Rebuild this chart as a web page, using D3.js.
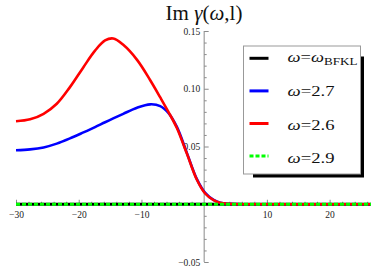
<!DOCTYPE html>
<html>
<head>
<meta charset="utf-8">
<script src="https://cdn.jsdelivr.net/npm/d3@7"></script>
<style>
  body { margin: 0; background: #fff; }
</style>
</head>
<body>
<div id="chart"></div>
<script>
var serif = "'Liberation Serif', 'Times New Roman', 'DejaVu Serif', serif";

// l values sampled along the curves
var ls = [-30, -27.75, -25.6, -23.5, -21.4, -19.25, -17.4, -15.8, -14.5, -12.9, -10.7, -8.6, -7, -5.7, -4.35, -2.76, -1.16, 0.16, 1.5, 2.55, 4, 7, 26.6];
// omega = 2.6 (red)
var im26 = [0.0718, 0.0735, 0.0783, 0.0870, 0.1014, 0.1187, 0.1330, 0.1418, 0.1435, 0.1380, 0.1250, 0.1074, 0.0925, 0.0800, 0.0660, 0.0439, 0.0212, 0.0093, 0.0035, 0.0012, 0.0003, 0, 0];
// omega = 2.7 (blue)
var im27 = [0.0468, 0.0475, 0.0492, 0.0525, 0.0570, 0.0622, 0.0668, 0.0710, 0.0743, 0.0783, 0.0836, 0.0865, 0.0850, 0.0790, 0.0670, 0.0445, 0.0217, 0.0098, 0.0037, 0.0012, 0.0003, 0, 0];
// omega_BFKL and omega = 2.9 stay on zero
var zeroLs = [-30, 26.6];
var imBfkl = [0, 0];
var im29 = [0, 0];

var xMajor = [-30, -20, -10, 10, 20];
var xMinor = [-28, -26, -24, -22, -18, -16, -14, -12, -8, -6, -4, -2, 2, 4, 6, 8, 12, 14, 16, 18, 22, 24, 26];
var yMajor = [0.15, 0.10, 0.05, -0.05];
var yMinor = [0.14, 0.13, 0.12, 0.11, 0.09, 0.08, 0.07, 0.06, 0.04, 0.03, 0.02, 0.01, -0.01, -0.02, -0.03, -0.04];

var legendLabels = ["BFKL", "2.7", "2.6", "2.9"];
var legendColors = ["#000", "#0000ff", "#ff0000", "#00ff00"];

var width = 371, height = 276;

var svg = d3.select("#chart").append("svg")
  .attr("width", width)
  .attr("height", height)
  .style("display", "block");

var x = d3.scaleLinear().domain([-30, 26.6]).range([16, 371]);
var y = d3.scaleLinear().domain([-0.05, 0.15]).range([262, 31]);

var axisColor = "#8a8a8a";
var fmtY = function (d) { return d3.format(".2f")(d).replace("-", "\u2212"); };
var fmtX = function (d) { return String(d).replace("-", "\u2212"); };

// y axis, ticks pointing right
var gy = svg.append("g").attr("transform", "translate(" + x(0) + ",0)");
gy.call(d3.axisLeft(y).tickValues(yMinor).tickSizeInner(-2.5).tickSizeOuter(0).tickFormat(""));
gy.append("g").call(d3.axisLeft(y).tickValues(yMajor).tickSizeInner(-4.5).tickSizeOuter(0).tickPadding(4).tickFormat(fmtY));
gy.selectAll(".domain").remove();
gy.append("line").attr("y1", y(0.15)).attr("y2", y(-0.05)).attr("stroke", axisColor);

// x axis, ticks pointing up
var gx = svg.append("g").attr("transform", "translate(0," + y(0) + ")");
gx.call(d3.axisBottom(x).tickValues(xMinor).tickSizeInner(-2.5).tickSizeOuter(0).tickFormat(""));
gx.append("g").call(d3.axisBottom(x).tickValues(xMajor).tickSizeInner(-4.5).tickSizeOuter(0).tickPadding(7).tickFormat(fmtX));
gx.selectAll(".domain").remove();
gx.append("line").attr("x1", x(-30)).attr("x2", x(26.6)).attr("stroke", axisColor);

svg.selectAll(".tick line").attr("stroke", axisColor);
svg.selectAll("g").attr("font-family", serif);
svg.selectAll(".tick text").attr("font-size", 9.5).attr("fill", "#222");

// curves
var line = d3.line()
  .x(function (d) { return x(d[0]); })
  .y(function (d) { return y(d[1]); })
  .curve(d3.curveCatmullRom.alpha(0.5));

function addCurve(xs, vs, color, w, dash) {
  svg.append("path")
    .datum(d3.zip(xs, vs))
    .attr("d", line)
    .attr("fill", "none")
    .attr("stroke", color)
    .attr("stroke-width", w)
    .attr("stroke-dasharray", dash || null);
}
addCurve(zeroLs, imBfkl, "#000", 3);
addCurve(ls, im27, "#0000ff", 2.6);
addCurve(ls, im26, "#ff0000", 2.6);
addCurve(zeroLs, im29, "#00ff00", 3, "4,2");

// title
var title = svg.append("text")
  .attr("x", 204).attr("y", 19.5)
  .attr("text-anchor", "middle")
  .attr("font-family", serif)
  .attr("font-size", 21)
  .attr("fill", "#111");
title.append("tspan").text("Im ");
title.append("tspan").attr("font-style", "italic").text("\u03b3");
title.append("tspan").text("(");
title.append("tspan").attr("font-style", "italic").text("\u03c9");
title.append("tspan").text(",l)");

// legend with drop shadow
var lg = svg.append("g");
lg.append("rect").attr("x", 253).attr("y", 56.5).attr("width", 111).attr("height", 121).attr("fill", "#000");
lg.append("rect").attr("x", 243.5).attr("y", 46).attr("width", 117).attr("height", 128)
  .attr("fill", "#fff").attr("stroke", "#999").attr("stroke-width", 1);

var rows = lg.selectAll("g.row").data(legendLabels).enter().append("g")
  .attr("class", "row");

rows.append("line")
  .attr("x1", 249.5).attr("x2", 268.5)
  .attr("y1", function (d, i) { return 58.3 + i * 32.6; })
  .attr("y2", function (d, i) { return 58.3 + i * 32.6; })
  .attr("stroke", function (d, i) { return legendColors[i]; })
  .attr("stroke-width", 3)
  .attr("stroke-dasharray", function (d, i) { return i === 3 ? "4,2" : null; });

rows.each(function (d, i) {
  var t = d3.select(this).append("text")
    .attr("x", 287.5).attr("y", 61.7 + i * 33.9)
    .attr("font-family", serif)
    .attr("font-size", 15.5).attr("fill", "#111")
    .attr("textLength", i === 0 ? 70 : 47)
    .attr("lengthAdjust", "spacingAndGlyphs");
  t.append("tspan").attr("font-style", "italic").text("\u03c9");
  t.append("tspan").text("=");
  if (i === 0) {
    t.append("tspan").attr("font-style", "italic").text("\u03c9");
    t.append("tspan").attr("font-size", 11).attr("dy", 3).text(d);
  } else {
    t.append("tspan").text(d);
  }
});
</script>
</body>
</html>
